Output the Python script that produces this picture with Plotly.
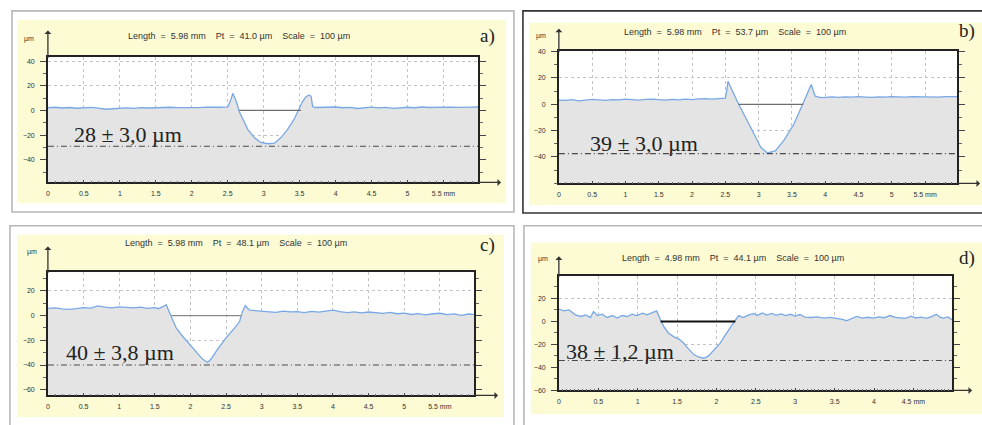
import plotly.graph_objects as go

W, H = 982, 425

# ------------------------------------------------------------------ data
# panel a)
a_x = [0.0, 0.1, 0.2, 0.3, 0.4, 0.5, 0.6, 0.7, 0.8, 0.9, 1.0, 1.1, 1.2, 1.3, 1.4, 1.5,
       1.6, 1.7, 1.8, 1.9, 2.0, 2.1, 2.2, 2.3, 2.4, 2.5, 2.54, 2.57, 2.60, 2.62, 2.66,
       2.71, 2.78, 2.87, 2.96, 3.06, 3.15, 3.24, 3.33, 3.42, 3.49, 3.54, 3.59, 3.63,
       3.66, 3.68, 3.72, 3.8, 3.9, 4.0, 4.1, 4.2, 4.3, 4.4, 4.5, 4.6, 4.7, 4.8, 4.9,
       5.0, 5.1, 5.2, 5.3, 5.4, 5.5, 5.6, 5.7, 5.8, 5.9, 5.98]
a_y = [2.2, 2.6, 2.0, 2.4, 1.8, 2.2, 2.5, 1.9, 1.0, 1.4, 1.8, 2.1, 1.7, 2.3, 2.0, 2.4,
       2.2, 2.6, 2.3, 2.1, 2.5, 2.3, 2.7, 2.4, 2.6, 2.9, 8.0, 13.9, 10.0, 7.2, -0.8,
       -7.5, -15.5, -22.0, -26.0, -27.0, -26.5, -22.0, -15.5, -7.5, 0.5, 7.2, 11.2, 12.5,
       11.5, 3.2, 2.4, 2.6, 2.3, 2.8, 2.2, 2.5, 1.6, 2.4, 2.7, 2.1, 2.5, 1.7, 2.3,
       2.6, 2.2, 2.8, 2.4, 2.6, 2.3, 2.7, 2.5, 2.9, 2.7, 2.8]
a_chord_x = [2.66, 3.52]
a_depth = -29.0
a_len = 5.98

# panel b)
b_x = [0.0, 0.1, 0.2, 0.3, 0.4, 0.5, 0.6, 0.7, 0.8, 0.9, 1.0, 1.1, 1.2, 1.3, 1.4, 1.5,
       1.6, 1.7, 1.8, 1.9, 2.0, 2.1, 2.2, 2.3, 2.4, 2.5, 2.52, 2.54, 2.58, 2.70, 2.88,
       3.03, 3.13, 3.20, 3.25, 3.38, 3.53, 3.65, 3.75, 3.79, 3.85, 3.93, 4.0, 4.1, 4.2,
       4.3, 4.4, 4.5, 4.6, 4.7, 4.8, 4.9, 5.0, 5.1, 5.2, 5.3, 5.4, 5.5, 5.6, 5.7, 5.8,
       5.9, 5.98]
b_y = [3.2, 3.0, 3.5, 2.6, 3.2, 3.8, 3.4, 3.0, 3.6, 3.3, 3.9, 3.5, 3.1, 3.7, 4.0, 3.6,
       3.2, 3.8, 3.4, 3.9, 3.6, 4.1, 4.3, 3.9, 4.4, 4.6, 10.0, 17.5, 13.0, 0.0, -17.5,
       -32.5, -37.0, -36.0, -35.5, -27.5, -15.0, -1.3, 11.2, 15.0, 6.2, 5.0, 5.3, 5.7, 5.2,
       5.6, 5.4, 5.8, 5.5, 5.2, 5.7, 5.5, 5.9, 5.6, 5.4, 5.8, 5.6, 5.9, 5.7, 5.5, 5.8,
       5.6, 5.8]
b_chord_x = [2.70, 3.67]
b_depth = -37.5
b_len = 5.98

# panel c)
c_x = [0.0, 0.1, 0.2, 0.3, 0.4, 0.5, 0.6, 0.7, 0.8, 0.9, 1.0, 1.1, 1.2, 1.3, 1.4, 1.5,
       1.55, 1.6, 1.66, 1.73, 1.80, 1.89, 1.99, 2.08, 2.17, 2.24, 2.29, 2.38, 2.50, 2.62,
       2.69, 2.73, 2.77, 2.83, 2.9, 3.0, 3.1, 3.2, 3.3, 3.4, 3.5, 3.6, 3.7, 3.8, 3.9,
       4.0, 4.1, 4.2, 4.3, 4.4, 4.5, 4.6, 4.7, 4.8, 4.9, 5.0, 5.1, 5.2, 5.3, 5.4, 5.5,
       5.6, 5.7, 5.8, 5.9, 5.98]
c_y = [5.8, 6.2, 5.4, 5.0, 5.6, 6.4, 6.0, 7.8, 6.8, 6.3, 7.0, 6.6, 6.2, 6.8, 5.9, 6.5,
       5.6, 6.8, 8.8, -0.8, -10.0, -16.7, -23.3, -29.9, -35.2, -38.0, -35.2, -27.3, -18.0, -10.0,
       -4.8, 3.2, 8.0, 4.4, 4.0, 3.7, 3.2, 2.6, 3.7, 3.0, 3.2, 2.5, 3.4, 2.8, 3.6,
       4.5, 3.2, 2.4, 3.0, 2.2, 2.9, 2.4, 1.8, 2.6, 1.5, 2.0, 0.9, 1.6, 0.6, 1.5, 1.9,
       0.8, 1.4, 0.2, 1.3, 1.0]
c_chord_x = [1.73, 2.71]
c_depth = -40.0
c_len = 5.98

# panel d)
d_x = [0.0, 0.06, 0.13, 0.17, 0.21, 0.28, 0.34, 0.40, 0.44, 0.49, 0.55, 0.61, 0.68, 0.74,
       0.80, 0.87, 0.93, 0.99, 1.06, 1.12, 1.18, 1.24, 1.29, 1.33, 1.39, 1.46, 1.52, 1.58,
       1.65, 1.71, 1.77, 1.84, 1.90, 1.96, 2.05, 2.13, 2.20, 2.24, 2.28, 2.34, 2.41, 2.47,
       2.52, 2.58, 2.64, 2.70, 2.76, 2.82, 2.88, 2.94, 3.00, 3.06, 3.12, 3.20, 3.28, 3.36,
       3.44, 3.52, 3.60, 3.65, 3.72, 3.78, 3.85, 3.92, 3.99, 4.06, 4.13, 4.20, 4.27, 4.33,
       4.40, 4.47, 4.53, 4.60, 4.66, 4.73, 4.79, 4.84, 4.88, 4.94, 4.99]
d_y = [10.8, 9.1, 10.0, 8.0, 5.7, 4.3, 5.7, 3.4, 8.6, 5.1, 6.3, 3.4, 5.1, 2.9,
       5.1, 4.3, 6.3, 5.1, 7.1, 5.7, 7.1, 9.1, 1.4, -4.3, -10.0, -13.4, -15.2, -18.6,
       -24.3, -28.6, -30.9, -32.0, -30.0, -25.7, -18.6, -10.0, -2.9, 2.0, 5.1, 3.4, 5.7, 6.8,
       5.2, 7.4, 5.5, 6.9, 5.3, 6.6, 5.0, 6.2, 4.6, 6.0, 3.8, 3.4, 3.9, 2.8,
       3.5, 2.6, 1.8, 0.6, 2.5, 4.3, 2.8, 3.6, 2.9, 4.0, 3.2, 5.1, 3.5, 3.4,
       2.7, 4.6, 3.0, 3.8, 2.6, 4.2, 6.3, 3.5, 2.9, 3.9, 1.4]
d_chord_x = [1.29, 2.24]
d_depth = -34.0
d_len = 4.99

panel_letters = ["a)", "b)", "c)", "d)"]
results = ["28 \u00b1 3,0 \u00b5m", "39 \u00b1 3,0 \u00b5m", "40 \u00b1 3,8 \u00b5m", "38 \u00b1 1,2 \u00b5m"]
lengths_txt = ["5.98", "5.98", "5.98", "4.98"]
pt_txt = ["41.0", "53.7", "48.1", "44.1"]
scale_txt = "100"

x_ticks_long = [0, 0.5, 1, 1.5, 2, 2.5, 3, 3.5, 4, 4.5, 5, 5.5]
x_ticks_long_txt = ["0", "0.5", "1", "1.5", "2", "2.5", "3", "3.5", "4", "4.5", "5", "5.5 mm"]
x_ticks_short = [0, 0.5, 1, 1.5, 2, 2.5, 3, 3.5, 4, 4.5]
x_ticks_short_txt = ["0", "0.5", "1", "1.5", "2", "2.5", "3", "3.5", "4", "4.5 mm"]
y_ticks_ab = [-40, -20, 0, 20, 40]
y_ticks_cd = [-60, -40, -20, 0, 20]

# ------------------------------------------------------------------ layout geometry (pixels)
panels = [
    dict(x=a_x, y=a_y, chord=a_chord_x, depth=a_depth, length=a_len,
         xt=x_ticks_long, xtt=x_ticks_long_txt, yt=y_ticks_ab, minor=0.1,
         px=(46, 477), py=(55, 182), yr=(-58.4, 43.2), chord_col="#6e6e6e", chord_w=1.3,
         frame=(10, 8, 513, 212), frame_col="#b8b8b8", yel=(15, 17, 505, 203),
         res=(70, 133), let=(477, 33), um=(20, 37), head=(237, 33),
         yarrow=28, xarrow=500),
    dict(x=b_x, y=b_y, chord=b_chord_x, depth=b_depth, length=b_len,
         xt=x_ticks_long, xtt=x_ticks_long_txt, yt=y_ticks_ab, minor=0.1,
         px=(558, 957), py=(49, 183), yr=(-60.2, 40.3), chord_col="#6e6e6e", chord_w=1.3,
         frame=(522, 8, 1030, 213), frame_col="#333333", yel=(528, 20, 1030, 205),
         res=(587, 143), let=(957, 28), um=(533, 33), head=(734, 29),
         yarrow=26, xarrow=980),
    dict(x=c_x, y=c_y, chord=c_chord_x, depth=c_depth, length=c_len,
         xt=x_ticks_long, xtt=x_ticks_long_txt, yt=y_ticks_cd, minor=0.1,
         px=(46, 473), py=(273, 398), yr=(-64.6, 35.2), chord_col="#8a8a8a", chord_w=1.1,
         frame=(8, 226, 513, 440), frame_col="#b8b8b8", yel=(15, 235, 503, 420),
         res=(62, 355), let=(477, 245), um=(23, 253), head=(234, 243),
         yarrow=247, xarrow=497),
    dict(x=d_x, y=d_y, chord=d_chord_x, depth=d_depth, length=d_len,
         xt=x_ticks_short, xtt=x_ticks_short_txt, yt=y_ticks_cd, minor=0.05,
         px=(558, 952), py=(277, 393), yr=(-60.0, 39.4), chord_col="#111111", chord_w=2.0,
         frame=(523, 226, 1030, 440), frame_col="#b8b8b8", yel=(530, 243, 1030, 417),
         res=(563, 353), let=(957, 259), um=(535, 260), head=(732, 259),
         yarrow=257, xarrow=972),
]


def fx(px):
    return px / W


def fy(py):
    return 1 - py / H


fig = go.Figure()
shapes = []
annotations = []
layout = {}
SANS = "Liberation Sans, Arial, sans-serif"
SERIF = "Liberation Serif, Times New Roman, serif"

for i, p in enumerate(panels):
    n = i + 1
    sfx = "" if n == 1 else str(n)
    xa, ya = "x" + sfx, "y" + sfx

    # frames & backgrounds
    x0, y0, x1, y1 = p["frame"]
    shapes.append(dict(type="rect", xref="paper", yref="paper", x0=fx(x0), x1=fx(x1),
                       y0=fy(y1), y1=fy(y0), line=dict(color=p["frame_col"], width=1.6),
                       fillcolor="white", layer="below"))
    x0, y0, x1, y1 = p["yel"]
    shapes.append(dict(type="rect", xref="paper", yref="paper", x0=fx(x0), x1=fx(x1),
                       y0=fy(y1), y1=fy(y0), line=dict(width=0),
                       fillcolor="#fcfbd3", layer="below"))
    shapes.append(dict(type="rect", xref="paper", yref="paper", x0=fx(p["px"][0]), x1=fx(p["px"][1]),
                       y0=fy(p["py"][1]), y1=fy(p["py"][0]), line=dict(width=0),
                       fillcolor="white", layer="below"))

    # traces
    fig.add_trace(go.Scatter(x=[0, p["length"]], y=[p["yr"][0], p["yr"][0]], mode="lines",
                             line=dict(width=0, color="rgba(0,0,0,0)"), hoverinfo="skip",
                             showlegend=False, xaxis=xa, yaxis=ya))
    fig.add_trace(go.Scatter(x=p["x"], y=p["y"], mode="lines", fill="tonexty",
                             fillcolor="#e4e4e4", line=dict(color="#78a8e6", width=1.3),
                             showlegend=False, xaxis=xa, yaxis=ya))
    fig.add_trace(go.Scatter(x=p["chord"], y=[0, 0], mode="lines",
                             line=dict(color=p["chord_col"], width=p["chord_w"]),
                             showlegend=False, xaxis=xa, yaxis=ya))
    fig.add_trace(go.Scatter(x=[0, p["length"]], y=[p["depth"], p["depth"]], mode="lines",
                             line=dict(color="#4a4a4a", width=1.1, dash="6px,3px,1px,3px"),
                             showlegend=False, xaxis=xa, yaxis=ya))

    tickfont = dict(family=SANS, size=7, color="#333333")
    layout["xaxis" + sfx] = dict(
        domain=[fx(p["px"][0]), fx(p["px"][1])], range=[0, p["length"]], anchor=ya,
        tickmode="array", tickvals=p["xt"], ticktext=p["xtt"], ticks="inside", ticklen=3,
        tickcolor="#444", minor=dict(dtick=p["minor"], tick0=0, ticks="inside", ticklen=2,
                                     tickcolor="#666", showgrid=False),
        showgrid=True, gridcolor="#c4c4c4", griddash="3px,3px", gridwidth=1,
        showline=True, linecolor="#222", linewidth=1.5, mirror=True, zeroline=False,
        tickfont=tickfont, ticklabelstandoff=3, fixedrange=True)
    layout["yaxis" + sfx] = dict(
        domain=[fy(p["py"][1]), fy(p["py"][0])], range=list(p["yr"]), anchor=xa,
        tickmode="array", tickvals=p["yt"], ticks="outside", ticklen=6, tickcolor="#444",
        minor=dict(dtick=10, tick0=0, ticks="outside", ticklen=3, tickcolor="#666",
                   showgrid=False),
        showgrid=True, gridcolor="#c4c4c4", griddash="3px,3px", gridwidth=1,
        showline=True, linecolor="#222", linewidth=1.5, mirror="ticks", zeroline=False,
        tickfont=tickfont, ticklabelstandoff=4, fixedrange=True)

    # axis arrows
    annotations.append(dict(xref=xa, yref="paper", x=0, y=fy(p["yarrow"]), text="",
                            showarrow=True, ax=0, ay=p["py"][0] - p["yarrow"] + 2,
                            arrowhead=1, arrowsize=0.9, arrowwidth=1.3, arrowcolor="#333"))
    annotations.append(dict(xref="paper", yref=ya, x=fx(p["xarrow"]), y=p["yr"][0], text="",
                            showarrow=True, ax=-(p["xarrow"] - p["px"][1] + 2), ay=0,
                            arrowhead=1, arrowsize=0.9, arrowwidth=1.3, arrowcolor="#333"))
    # texts
    annotations.append(dict(xref="paper", yref="paper", x=fx(p["res"][0]), y=fy(p["res"][1]),
                            text=results[i], showarrow=False, xanchor="left", yanchor="middle",
                            font=dict(family=SERIF, size=22, color="#222")))
    annotations.append(dict(xref="paper", yref="paper", x=fx(p["let"][0]), y=fy(p["let"][1]),
                            text=panel_letters[i], showarrow=False, xanchor="left", yanchor="middle",
                            font=dict(family=SERIF, size=19, color="#222")))
    annotations.append(dict(xref="paper", yref="paper", x=fx(p["um"][0]), y=fy(p["um"][1]),
                            text="\u00b5m", showarrow=False, xanchor="left", yanchor="middle",
                            font=dict(family=SANS, size=7, color="#333")))
    sp2 = "\u00a0\u00a0"
    head = ("Length" + sp2 + "=" + sp2 + lengths_txt[i] + "\u00a0mm" + sp2 + sp2 +
            "Pt" + sp2 + "=" + sp2 + pt_txt[i] + "\u00a0\u00b5m" + sp2 + sp2 +
            "Scale" + sp2 + "=" + sp2 + scale_txt + "\u00a0\u00b5m")
    annotations.append(dict(xref="paper", yref="paper", x=fx(p["head"][0]), y=fy(p["head"][1]),
                            text=head, showarrow=False, xanchor="center", yanchor="middle",
                            font=dict(family=SANS, size=9, color="#333")))

fig.update_layout(width=W, height=H, margin=dict(l=0, r=0, t=0, b=0),
                  paper_bgcolor="white", plot_bgcolor="rgba(0,0,0,0)",
                  showlegend=False, shapes=shapes, annotations=annotations, **layout)
fig.write_html("out.html", config={"displayModeBar": False},
               post_script="document.body.style.margin='0';document.body.style.overflow='hidden';")
